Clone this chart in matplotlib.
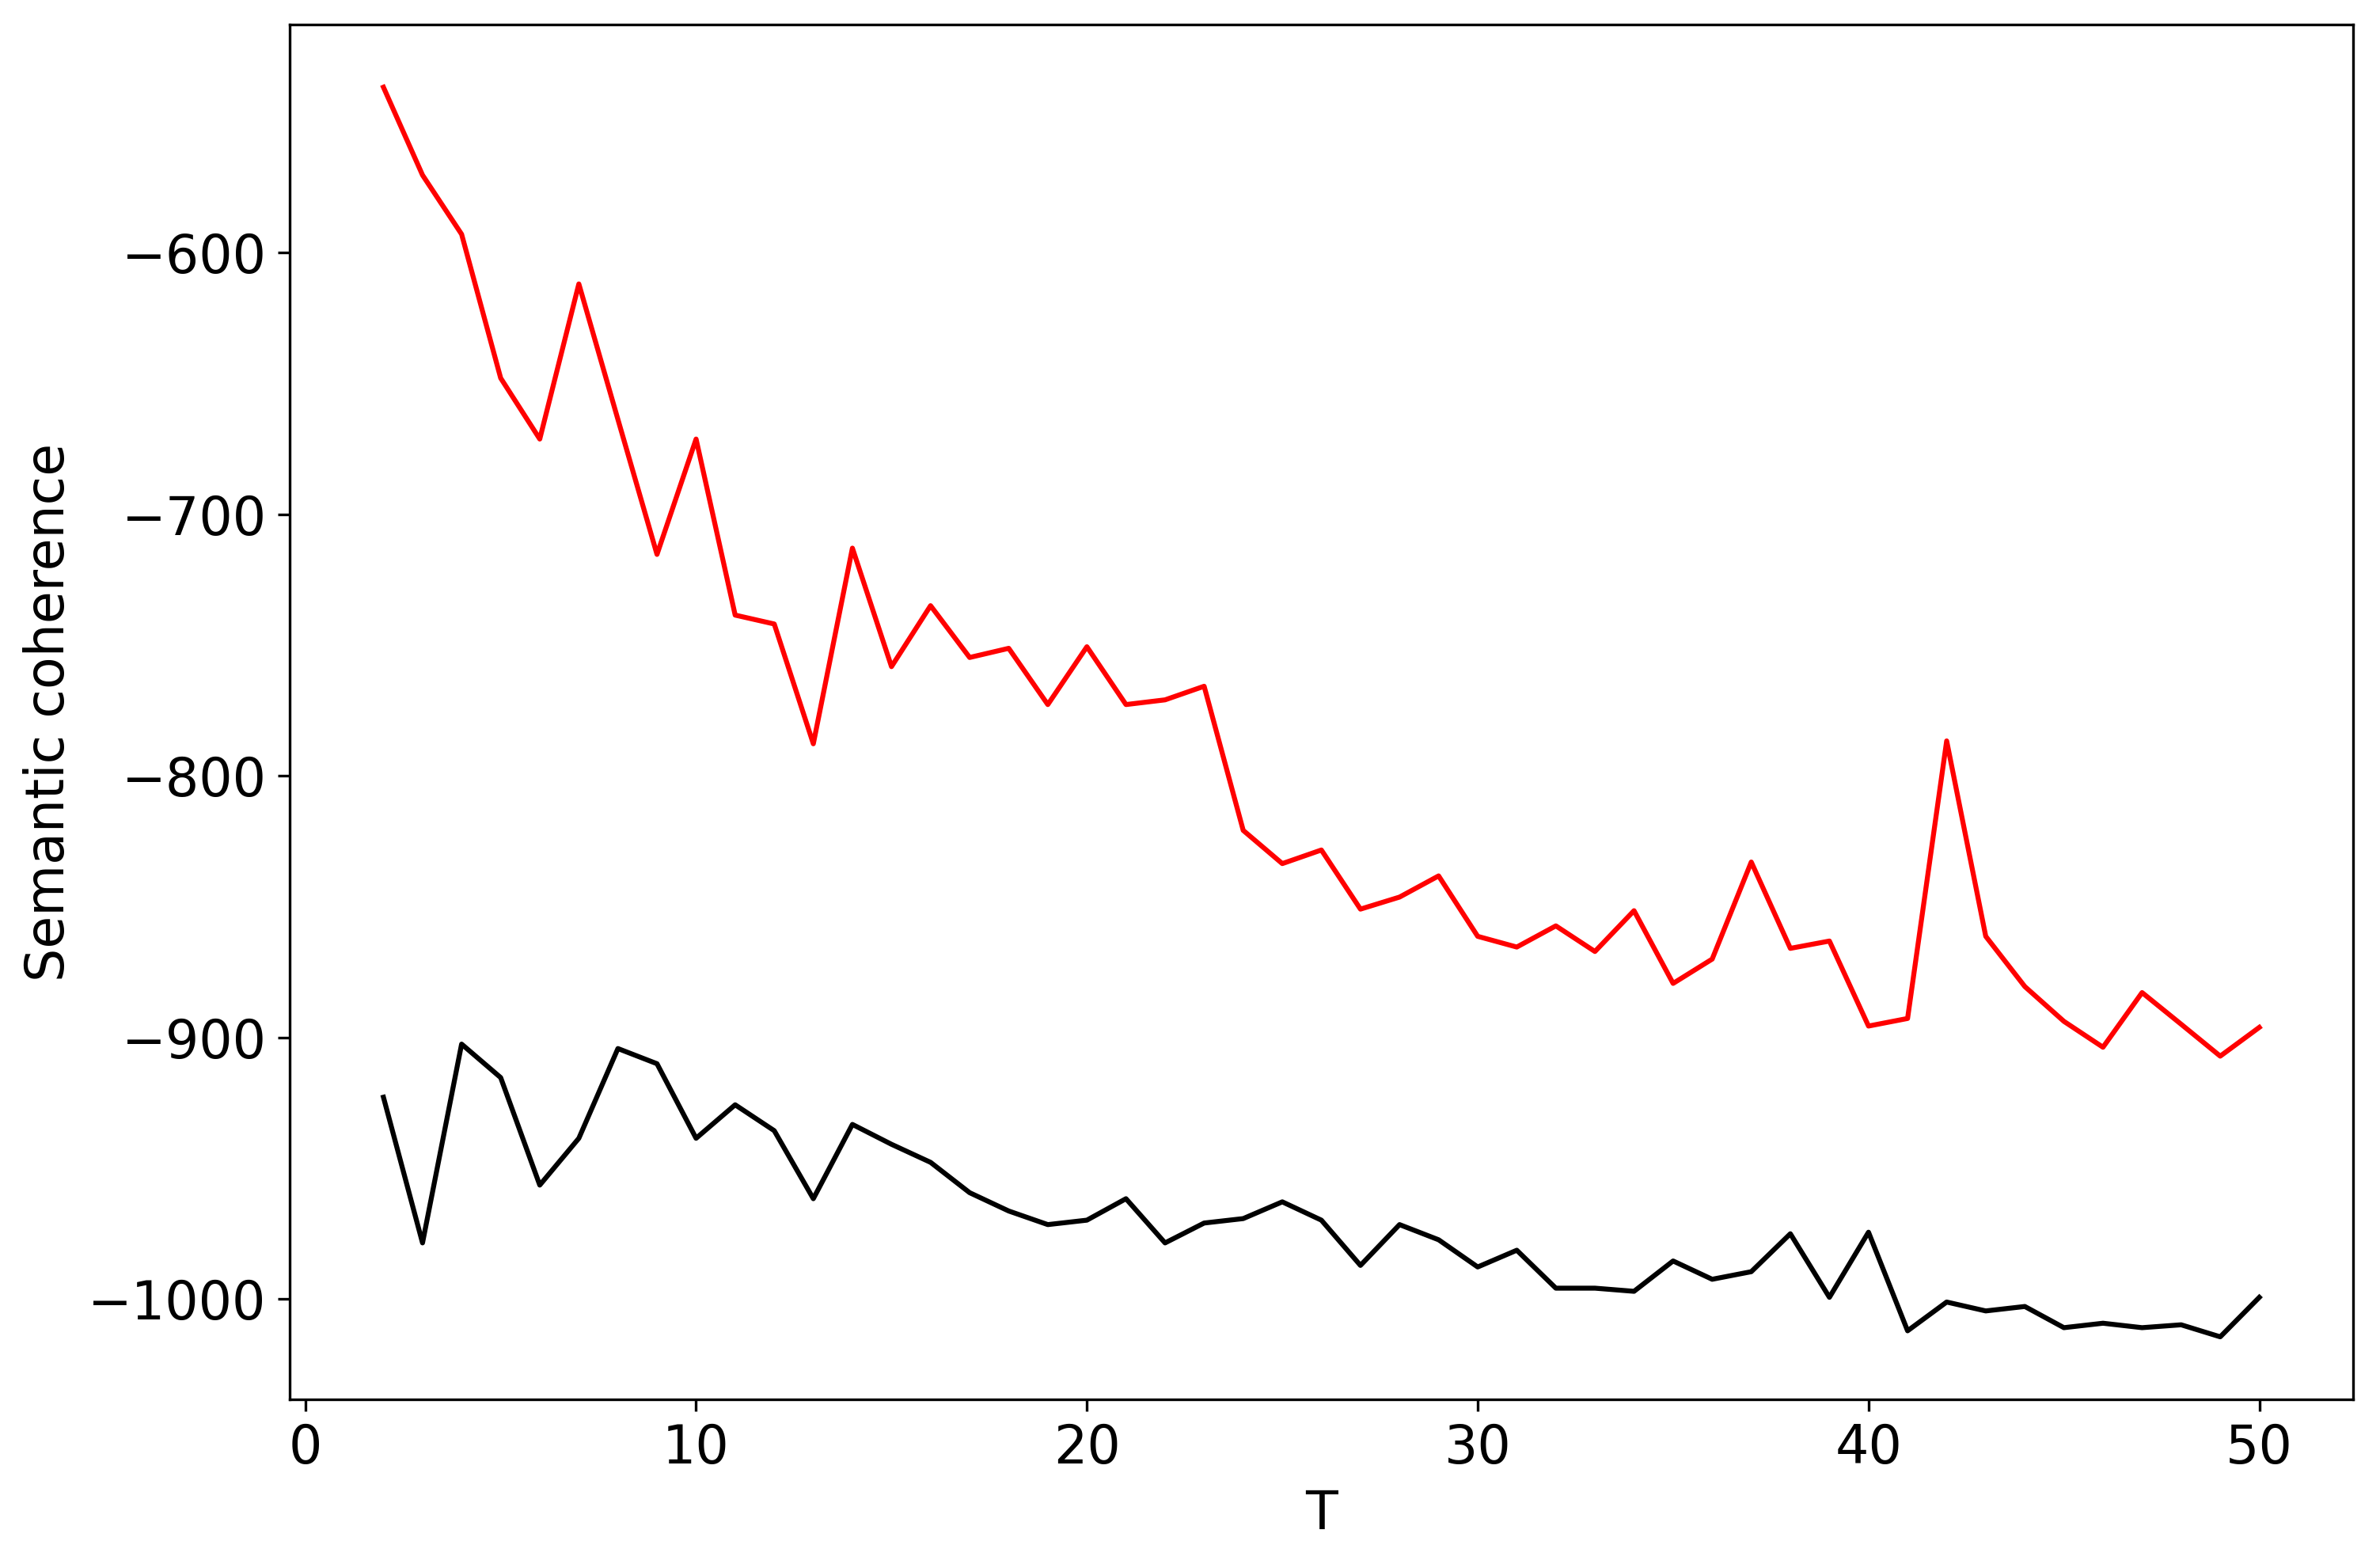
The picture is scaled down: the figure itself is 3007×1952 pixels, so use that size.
import matplotlib
matplotlib.use("Agg")
import matplotlib.pyplot as plt
import numpy as np

T = list(range(2, 51))

red_vals = [-536.8, -570.4, -593.0, -648.0, -671.3, -612.0, -663.8, -715.4, -671.3,
            -738.6, -742.0, -787.8, -713.0, -758.3, -735.0, -754.8, -751.3, -772.8,
            -750.7, -772.8, -771.0, -765.8, -820.9, -833.6, -828.4, -851.0, -846.4,
            -838.3, -861.4, -865.5, -857.4, -867.2, -851.6, -879.4, -870.1, -833.0,
            -866.0, -863.2, -895.7, -892.8, -786.7, -861.4, -880.6, -893.9, -903.8,
            -882.9, -895.0, -907.2, -896.2]

black_vals = [-922.9, -978.6, -902.6, -915.4, -956.5, -938.6, -904.3, -910.1, -938.6,
              -925.8, -935.7, -961.7, -933.3, -940.9, -947.8, -959.4, -966.4, -971.6,
              -969.9, -961.7, -978.6, -971.0, -969.3, -962.9, -969.9, -987.2, -971.6,
              -977.4, -987.8, -981.4, -995.9, -995.9, -997.1, -985.5, -992.5, -989.6,
              -975.1, -999.4, -974.5, -1012.2, -1001.2, -1004.6, -1002.9, -1011.0,
              -1009.3, -1011.0, -1009.9, -1014.5, -999.4]

plt.rcParams.update({'font.size': 16})
fig = plt.figure(figsize=(3007 / 300, 1952 / 300), dpi=300)
ax = fig.add_subplot(111)
fig.subplots_adjust(left=0.1217, right=0.9887, bottom=0.0943, top=0.984)

ax.plot(T, red_vals, color='red', linewidth=1.5)
ax.plot(T, black_vals, color='black', linewidth=1.5)

ax.set_xlabel("T")
ax.set_ylabel("Semantic coherence")

fig.savefig("out.png", dpi=300)
